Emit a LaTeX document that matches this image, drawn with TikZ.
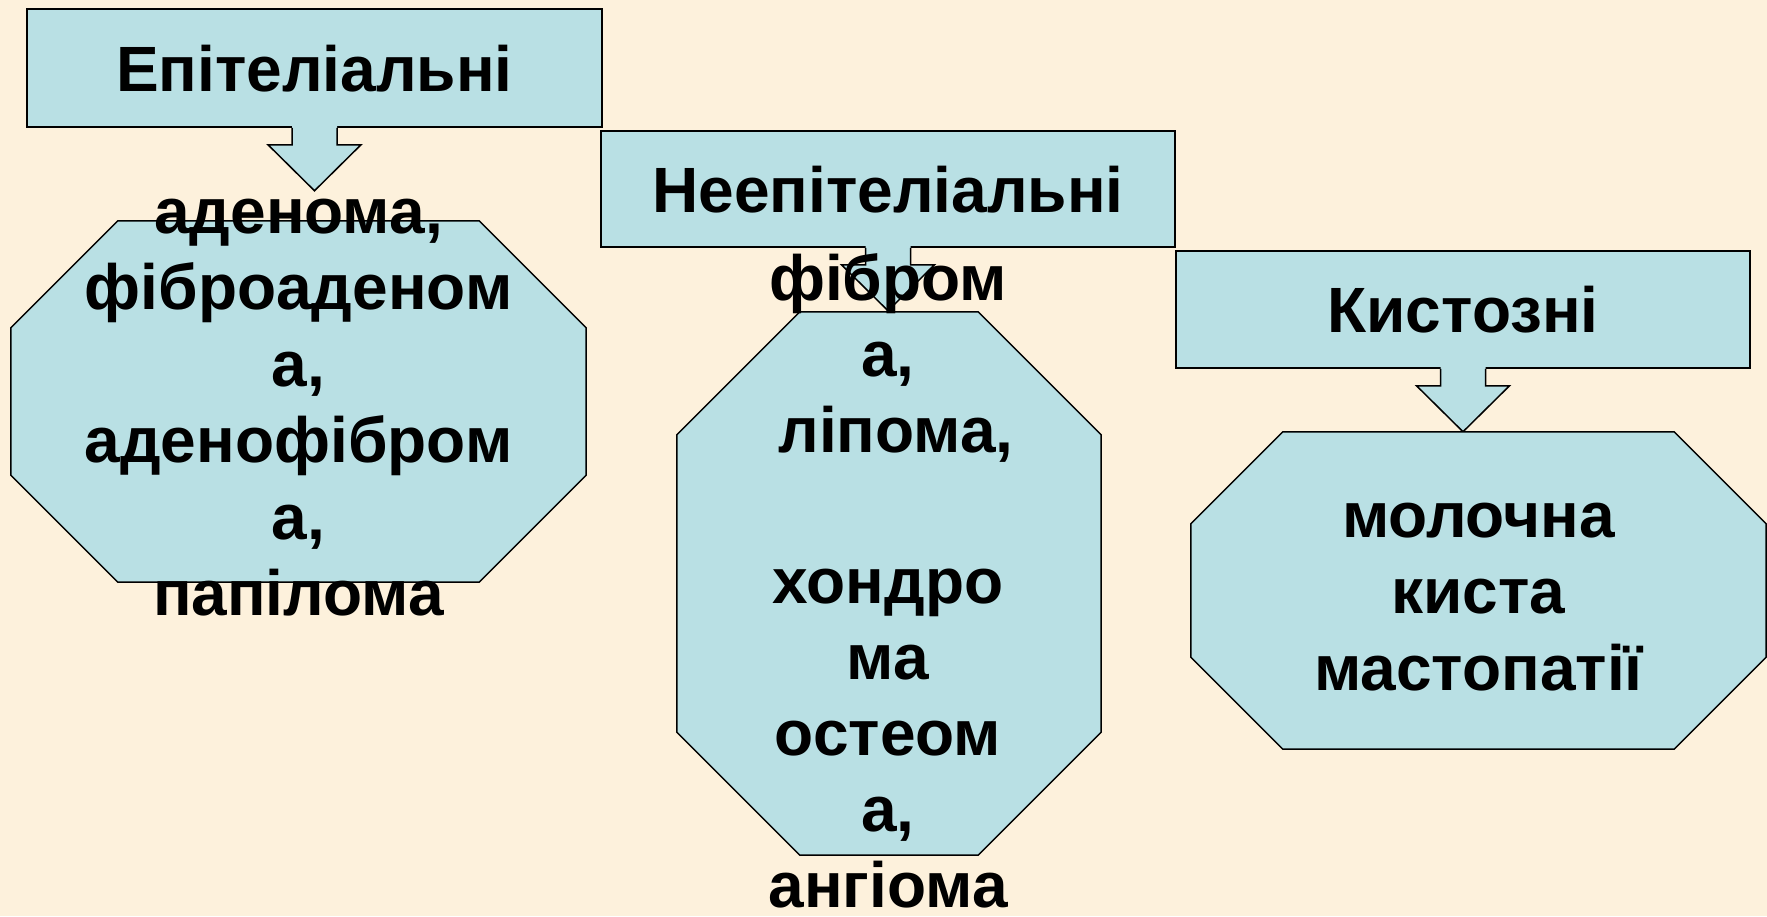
\documentclass[tikz,border=0pt]{standalone}
\usepackage{fontspec}
\setmainfont{Liberation Sans}
\usetikzlibrary{calc}
\definecolor{bgcream}{RGB}{253,241,220}
\definecolor{boxblue}{RGB}{185,224,228}
\tikzset{
  hdrbox/.style={draw=black, line width=1.5pt, fill=boxblue, inner sep=0pt,
    font=\bfseries\fontsize{64}{76.5}\selectfont, text height=46pt, text depth=0pt},
  octarea/.style={draw=none, inner sep=0pt},
  octline/.style={draw=black, line width=1.5pt, fill=boxblue, line join=miter},
  arrline/.style={draw=black, line width=1.5pt, line join=miter},
  arrfill/.style={fill=boxblue, draw=none},
  txtline/.style={inner sep=0pt, anchor=base, font=\bfseries\fontsize{64}{76.5}\selectfont}
}
\newcommand{\octoshape}[2]{%
  \draw[octline] ($(#1.north west)+(#2,0)$) -- ($(#1.north east)+(-#2,0)$)
    -- ($(#1.north east)+(0,#2)$) -- ($(#1.south east)+(0,-#2)$)
    -- ($(#1.south east)+(-#2,0)$) -- ($(#1.south west)+(#2,0)$)
    -- ($(#1.south west)+(0,-#2)$) -- ($(#1.north west)+(0,#2)$) -- cycle;}
\newcommand{\blkarrow}[1]{%
  \fill[arrfill] ($(#1.south)+(-22.5,-3)$) -- ($(#1.south)+(-22.5,17)$)
    -- ($(#1.south)+(-46.5,17)$) -- ($(#1.south)+(0,63)$)
    -- ($(#1.south)+(46.5,17)$) -- ($(#1.south)+(22.5,17)$)
    -- ($(#1.south)+(22.5,-3)$) -- cycle;
  \draw[arrline] ($(#1.south)+(-22.5,0)$) -- ($(#1.south)+(-22.5,17)$)
    -- ($(#1.south)+(-46.5,17)$) -- ($(#1.south)+(0,63)$)
    -- ($(#1.south)+(46.5,17)$) -- ($(#1.south)+(22.5,17)$)
    -- ($(#1.south)+(22.5,0)$);}
\begin{document}
\begin{tikzpicture}[x=1pt,y=-1pt]
\useasboundingbox (0,0) rectangle (1767,916);
\fill[bgcream] (0,0) rectangle (1767,916);
% header boxes
\node[hdrbox, minimum width=575pt, minimum height=118pt] (b1) at (314.5,68) {Епітеліальні};
\node[hdrbox, minimum width=574pt, minimum height=116pt] (b2) at (888,189) {Неепітеліальні};
\node[hdrbox, minimum width=574pt, minimum height=117pt] (b3) at (1463,309.5) {Кистозні};
% block arrows
\blkarrow{b1}
\blkarrow{b2}
\blkarrow{b3}
% octagon areas
\node[octarea, minimum width=575pt, minimum height=361pt] (o1) at (298.5,401.5) {};
\node[octarea, minimum width=424pt, minimum height=543pt] (o2) at (889,583.5) {};
\node[octarea, minimum width=575pt, minimum height=317pt] (o3) at (1478.5,590.5) {};
\octoshape{o1}{107}
\octoshape{o2}{123}
\octoshape{o3}{92}
% texts of octagon 1
\node[txtline] (t11) at (298.5,233) {аденома,};
\node[txtline] (t12) at (298.5,309.5) {фіброаденом};
\node[txtline] (t13) at (298.5,386) {а,};
\node[txtline] (t14) at (298.5,462.5) {аденофібром};
\node[txtline] (t15) at (298.5,539) {а,};
\node[txtline] (t16) at (298.5,615.5) {папілома};
% texts of octagon 2
\node[txtline] (t21) at (888,300) {фібром};
\node[txtline] (t22) at (888,376) {а,};
\node[txtline] (t23) at (896,452) {ліпома,};
\node[txtline] (t24) at (888,603.5) {хондро};
\node[txtline] (t25) at (888,679.5) {ма};
\node[txtline] (t26) at (888,755.5) {остеом};
\node[txtline] (t27) at (888,831.5) {а,};
\node[txtline] (t28) at (888,907) {ангіома};
% texts of octagon 3
\node[txtline] (t31) at (1478.5,537) {молочна};
\node[txtline] (t32) at (1478.5,613.5) {киста};
\node[txtline] (t33) at (1478.5,690) {мастопатії};
\end{tikzpicture}
\end{document}
